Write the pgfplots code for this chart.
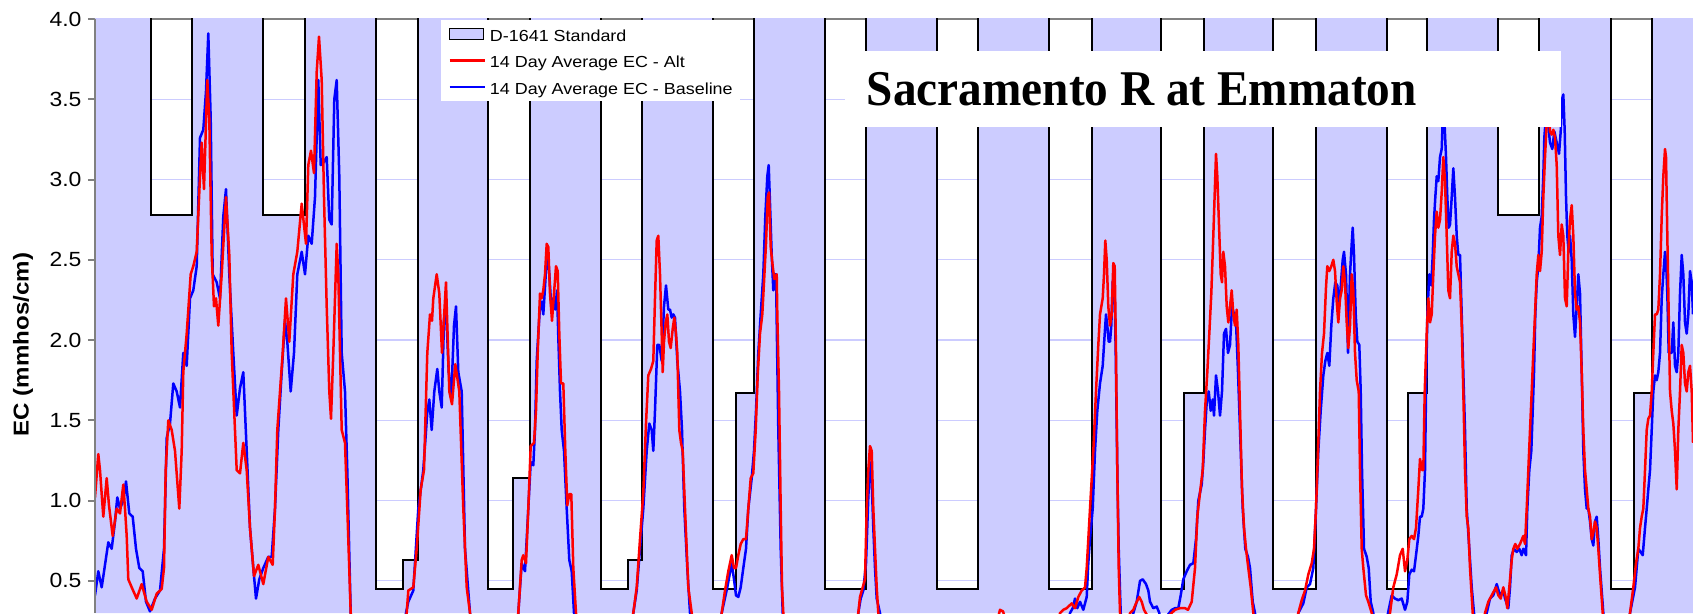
\documentclass[border=0pt]{standalone}
\usepackage{fontspec}
\setmainfont{Liberation Sans}[FakeStretch=1.12]
\newfontfamily\titlefont{Liberation Serif}[FakeStretch=0.945]
\usepackage{pgfplots}
\usepackage{pgfplotstable}
\pgfplotsset{compat=1.18}
\definecolor{stdfill}{HTML}{CCCCFF}
\definecolor{gridc}{HTML}{CCCCFF}
\definecolor{axgray}{HTML}{808080}
\definecolor{altred}{HTML}{FF0000}
\definecolor{baseblue}{HTML}{0000FF}
\pgfplotsset{
  linelegend/.style={legend image code/.code={\draw[##1] (0pt,0pt) -- (35pt,0pt);}},
  boxlegend/.style={legend image code/.code={\draw[##1] (0pt,-5.8pt) rectangle (34pt,5.8pt);}},
}

\pgfplotstableread{
x y
95 4.6
151 4.6
151 2.78
192.3 2.78
192.3 4.6
263.3 4.6
263.3 2.78
305.3 2.78
305.3 4.6
375.7 4.6
375.7 0.45
403.3 0.45
403.3 0.63
417.7 0.63
417.7 4.6
487.7 4.6
487.7 0.45
512.7 0.45
512.7 1.14
530 1.14
530 4.6
600.7 4.6
600.7 0.45
628.3 0.45
628.3 0.63
642.3 0.63
642.3 4.6
712.7 4.6
712.7 0.45
735.7 0.45
735.7 1.67
754.3 1.67
754.3 4.6
825 4.6
825 0.45
866 0.45
866 4.6
936.7 4.6
936.7 0.45
978.3 0.45
978.3 4.6
1049 4.6
1049 0.45
1091.7 0.45
1091.7 4.6
1161 4.6
1161 0.45
1184.3 0.45
1184.3 1.67
1204 1.67
1204 4.6
1273.3 4.6
1273.3 0.45
1315.7 0.45
1315.7 4.6
1386.7 4.6
1386.7 0.45
1408.3 0.45
1408.3 1.67
1427.3 1.67
1427.3 4.6
1498.3 4.6
1498.3 2.78
1539.3 2.78
1539.3 4.6
1610.7 4.6
1610.7 0.45
1634 0.45
1634 1.67
1651.7 1.67
1651.7 4.6
1693 4.6
}\stdtable

\pgfplotstableread{
x y
95 1.02
98.3 1.29
100 1.19
103.3 0.90
106.7 1.14
109 0.97
112.7 0.78
116.7 0.95
120 0.92
123.3 1.10
125 0.95
126.7 0.78
128.3 0.51
131.7 0.46
136.7 0.39
141.7 0.48
146.7 0.37
151.7 0.32
156.7 0.42
161.7 0.45
164 0.58
165.7 1.19
168.3 1.50
171.7 1.44
175 1.31
179.3 0.95
181.7 1.31
183.3 1.80
186.7 2.04
190.7 2.41
193.3 2.46
196.7 2.55
200 3.02
201.7 3.23
204 2.94
207.3 3.62
209.3 3.38
211.7 2.53
214 2.21
216 2.26
218.3 2.09
221.7 2.41
226 2.89
229.3 2.53
231.7 1.92
236.7 1.19
240 1.17
243.3 1.36
246.7 1.19
250 0.83
254 0.53
258.3 0.60
263.3 0.48
268.3 0.65
272.7 0.60
275 0.95
277.3 1.44
282.7 1.92
286 2.26
289.3 1.99
293.3 2.41
297.3 2.55
301.7 2.85
306 2.60
308.3 3.09
311 3.18
314 3.04
316.7 3.67
319 3.89
321.7 3.62
324 2.89
326.7 2.21
329.3 1.68
331 1.51
333.3 1.92
336.7 2.60
338.3 2.41
341.7 1.44
345 1.36
347.3 0.95
350.7 0.30
355 0.10
400 0.10
406.7 0.30
408.3 0.44
413.3 0.46
416.7 0.70
420.7 1.07
424 1.19
427.3 1.92
430 2.16
432 2.12
433.3 2.26
436.7 2.41
439.3 2.29
442 1.92
446 2.36
449.3 1.68
452 1.60
455.3 1.85
459.3 1.68
463.3 0.95
466.7 0.46
470 0.30
474 0.10
514 0.10
518.3 0.30
521.7 0.63
523.3 0.66
526 0.61
528.3 0.95
530.7 1.34
534 1.36
536 1.56
537.7 1.92
540 2.29
541.7 2.26
543.3 2.31
545 2.41
546.7 2.60
548.3 2.58
550 2.29
552 2.12
554 2.29
556 2.46
557.7 2.43
559.3 2.04
561 1.73
563.3 1.73
565.3 1.31
567.3 0.97
569.3 1.04
571.3 1.04
573.3 0.58
576 0.30
580 0.10
628 0.10
633.3 0.30
636.7 0.46
640 0.76
643.3 1.05
646 1.48
648.3 1.78
651 1.82
653.3 1.87
655 2.26
656.7 2.62
658.3 2.65
660 2.41
661.7 2.04
662.7 1.80
664 1.99
665.7 2.11
667.3 2.16
669 1.99
670.7 1.95
672.7 2.07
674.3 2.14
676 2.04
677.3 1.92
679.3 1.44
681 1.36
682.7 1.31
685 0.95
688.3 0.46
691.7 0.30
695 0.10
717 0.10
721.7 0.30
725 0.44
728.3 0.56
731.7 0.66
734 0.58
736 0.58
738.3 0.66
740.7 0.73
743.3 0.76
746 0.76
748.3 0.95
750.7 1.14
753.3 1.17
755.7 1.44
757.7 1.78
760 2.04
762.3 2.16
764 2.36
766 2.60
767.7 2.89
769 2.92
770.7 2.58
772.7 2.46
774.3 2.38
776.7 2.41
777.3 2.16
779 1.68
780.7 0.95
782 0.46
783.3 0.30
787 0.10
853 0.10
858.3 0.30
860 0.40
862.7 0.46
865 0.51
866.7 0.95
868.3 1.19
870 1.34
871.7 1.31
873.3 0.95
875 0.70
876.7 0.46
878.3 0.30
882 0.10
996 0.10
998 0.27
1000 0.32
1003 0.31
1005 0.27
1008 0.10
1055 0.10
1060 0.30
1063.3 0.32
1066.7 0.33
1071.7 0.36
1075 0.33
1078.3 0.40
1081.7 0.44
1085 0.46
1086.7 0.58
1088.3 0.76
1090 0.95
1093.3 1.31
1096 1.68
1098.3 1.97
1100 2.16
1102.7 2.26
1104 2.41
1105.3 2.62
1106.7 2.50
1108.3 2.21
1110 2.09
1111.7 2.16
1113.3 2.48
1114.7 2.46
1116 1.92
1117.3 1.19
1118.7 0.58
1120 0.30
1124 0.10
1127 0.10
1130 0.30
1133.3 0.32
1136.7 0.37
1139.3 0.40
1141.7 0.37
1144 0.32
1146.7 0.29
1150 0.10
1166 0.10
1170 0.29
1175 0.32
1180 0.33
1185 0.33
1188 0.32
1191.7 0.37
1195 0.58
1197.3 0.90
1200 1.05
1202.7 1.19
1205 1.56
1207.3 1.80
1209.3 2.04
1211.3 2.29
1213.3 2.65
1215 2.97
1216 3.16
1217.3 3.02
1218.7 2.77
1220.7 2.41
1222 2.36
1223.3 2.55
1225 2.46
1226.7 2.21
1228.3 2.11
1230 2.21
1231.7 2.31
1233.3 2.16
1235 2.09
1236.7 2.19
1238.3 1.97
1240 1.56
1242 1.07
1244 0.83
1246 0.70
1248.3 0.58
1250.7 0.46
1253.3 0.30
1257 0.10
1294 0.10
1298.3 0.30
1301.7 0.38
1305 0.44
1308.3 0.54
1311.7 0.61
1314 0.70
1316 0.95
1318 1.31
1320 1.68
1322 1.92
1324 2.04
1326 2.33
1327.3 2.46
1329.3 2.43
1331.3 2.46
1333.3 2.50
1335 2.43
1336.7 2.24
1338.3 2.11
1340 2.26
1341.7 2.31
1343.3 2.46
1345 2.36
1346.7 2.11
1348.3 1.95
1350 2.09
1351.7 2.41
1353.3 2.31
1355 1.92
1356.7 1.75
1358.7 1.68
1360 1.19
1361.7 0.70
1363.3 0.58
1366 0.41
1368.3 0.37
1371.7 0.30
1375 0.10
1386 0.10
1390 0.30
1393.3 0.46
1396.7 0.54
1400 0.66
1402.7 0.70
1405 0.56
1407.3 0.63
1409.3 0.76
1411.7 0.78
1414 0.76
1416 0.83
1418.3 1.07
1420 1.26
1422 1.19
1423.3 1.19
1424.7 1.68
1426.7 2.04
1428.3 2.26
1430 2.11
1431.7 2.16
1433.3 2.41
1435 2.65
1436.7 2.80
1438.3 2.70
1440 2.75
1441.7 2.92
1443.3 3.14
1445 2.99
1446.7 2.65
1448.3 2.31
1450 2.26
1451.7 2.55
1453.3 2.65
1455 2.60
1456.7 2.46
1458.3 2.41
1460 2.36
1461.7 2.09
1463.3 1.68
1465 1.19
1466.7 0.90
1468.3 0.83
1470 0.58
1472.7 0.30
1476 0.10
1482 0.10
1485 0.30
1488.3 0.37
1491.7 0.41
1496 0.46
1498.3 0.41
1500.7 0.39
1503.3 0.46
1505.3 0.41
1507.3 0.33
1509.3 0.46
1511.7 0.63
1513.3 0.70
1515.3 0.73
1517.3 0.70
1520 0.73
1522 0.76
1523.3 0.78
1525 0.73
1526.7 0.95
1528.3 1.19
1530 1.44
1531.7 1.68
1533.3 1.92
1535 2.16
1536.7 2.41
1538.3 2.53
1540 2.43
1541.7 2.55
1543.3 2.89
1545 3.14
1546.7 3.35
1548.3 3.45
1550 3.30
1551.7 3.28
1553.3 3.31
1555 3.26
1556.7 3.09
1558.3 2.65
1560 2.53
1561.7 2.72
1563.3 2.65
1565 2.26
1566.7 2.21
1568.3 2.55
1570 2.75
1571.7 2.84
1573.3 2.65
1575 2.29
1576.7 2.19
1578.3 2.21
1580 2.11
1581.7 1.80
1583.3 1.44
1585 1.19
1586.7 1.07
1588.3 0.95
1590 0.90
1591.7 0.76
1593.3 0.80
1595 0.87
1596.7 0.83
1598.3 0.70
1600 0.54
1602.7 0.30
1606 0.10
1626 0.10
1630 0.30
1633.3 0.46
1636 0.61
1638.3 0.70
1640 0.83
1641.7 0.90
1643.3 0.95
1645 1.19
1646.7 1.44
1648.3 1.51
1650 1.53
1651.7 1.68
1653.3 1.92
1655 2.16
1656.7 2.16
1658.3 2.19
1660 2.41
1661.7 2.77
1663.3 3.02
1665 3.19
1666 3.14
1667.3 2.65
1668.7 2.16
1670 1.68
1671.7 1.56
1673.3 1.48
1675 1.31
1676.7 1.07
1678.3 1.44
1680 1.68
1681.7 1.97
1683.3 1.92
1685 1.73
1686.7 1.68
1688.3 1.80
1690 1.84
1691.7 1.68
1693 1.36
}\alttable

\pgfplotstableread{
x y
95 0.41
98.3 0.56
101.7 0.46
105 0.60
108.3 0.74
111.7 0.70
115 0.87
117.3 1.02
120 0.95
123.3 1.00
126 1.12
129.3 0.92
132.7 0.90
136 0.70
139.3 0.58
142.7 0.56
146 0.37
150 0.31
155 0.39
160 0.44
164 0.70
166.7 1.39
170 1.48
173.3 1.73
176.7 1.68
180 1.58
183.3 1.92
186.7 1.84
190 2.26
193.3 2.31
196.7 2.46
200 3.26
203.3 3.31
206 3.55
208.3 3.91
210.7 3.38
212.7 2.41
216.7 2.36
220 2.26
223.3 2.77
226 2.94
229.3 2.41
233.3 1.92
236.7 1.53
240 1.70
243.3 1.80
246.7 1.31
250 0.83
253.3 0.58
256 0.39
259.3 0.51
263.3 0.58
268.3 0.65
271.7 0.65
275 0.95
278.3 1.44
281.7 1.80
285 2.12
287.3 1.99
290.7 1.68
294 1.92
297.3 2.41
301.7 2.55
305 2.41
308.3 2.65
311.7 2.60
315 2.89
318.3 3.62
320.7 3.09
324 3.11
326.7 3.14
329.3 2.75
331.7 2.72
334.3 3.50
336.7 3.62
339.3 3.02
341.7 1.92
345 1.68
347.3 1.19
350.7 0.30
355 0.10
402 0.10
406 0.30
408.3 0.37
413.3 0.44
418.3 0.95
423.3 1.19
427.3 1.55
429.3 1.63
431.7 1.44
434.3 1.68
437.3 1.82
439.3 1.68
441.7 1.58
444 2.12
446 2.21
448.7 1.80
451.3 1.65
454 2.09
456 2.21
458.3 1.80
461.7 1.68
465 0.70
470 0.30
474 0.10
514 0.10
518.3 0.30
521.7 0.61
525 0.56
527.3 0.83
530.7 1.24
533.3 1.22
535 1.44
536.7 1.87
538.3 2.04
540 2.21
541.7 2.24
543.3 2.16
545.3 2.36
547.3 2.58
549.3 2.41
551.3 2.21
553.3 2.26
555.3 2.19
557 2.31
558.3 2.02
560 1.68
561.7 1.44
564 1.31
566.7 0.95
569.3 0.63
571.7 0.56
574 0.30
578 0.10
629 0.10
633.3 0.30
636.7 0.44
640 0.70
643.3 0.95
646.7 1.31
649.3 1.48
651.7 1.44
653.3 1.31
655 1.56
657.3 1.97
659.3 1.97
661.7 1.87
664 2.21
666 2.34
668.3 2.19
670 2.19
671.7 2.14
673.3 2.16
675 2.14
677.3 1.87
680 1.68
682 1.44
684.3 0.95
687.3 0.58
690 0.30
694 0.10
717 0.10
721.7 0.30
727.3 0.46
731.7 0.61
734 0.51
736 0.41
738.3 0.40
740.7 0.46
743.3 0.58
746 0.70
748.3 0.95
751.7 1.14
754 1.31
756 1.56
758.3 1.92
760.7 2.16
763.3 2.41
765.3 2.77
767.3 3.02
768.7 3.09
770 2.85
771.7 2.53
773.3 2.31
774.3 2.41
776 2.41
778.3 1.44
780.7 0.70
782.7 0.30
786 0.10
854 0.10
858.3 0.30
860.7 0.39
863.3 0.44
866 0.61
868.3 1.02
870 1.24
871.7 1.12
873.3 0.83
875 0.58
876.7 0.39
880 0.30
884 0.10
1066 0.10
1070 0.30
1072.7 0.33
1075 0.39
1077.3 0.33
1080 0.37
1083.3 0.32
1086.7 0.40
1088.3 0.61
1090 0.76
1092.7 0.95
1095 1.31
1097.3 1.56
1100 1.73
1102.7 1.84
1104.7 2.04
1106 2.16
1107.3 2.09
1108.7 1.99
1110 1.99
1111.3 2.09
1112.7 2.36
1114.3 2.41
1115.7 1.92
1117.3 1.19
1118.7 0.70
1120.7 0.30
1124 0.10
1130 0.10
1133.3 0.30
1136.7 0.37
1140 0.50
1142.7 0.51
1146 0.48
1148.3 0.44
1150 0.37
1153.3 0.33
1156.7 0.34
1159.3 0.30
1162 0.10
1165 0.10
1168 0.29
1171.7 0.32
1175 0.33
1178.3 0.33
1180.7 0.41
1183.3 0.51
1186.7 0.56
1190 0.60
1193.3 0.61
1196 0.76
1198.3 1.00
1201.7 1.10
1203.3 1.24
1205 1.44
1206.7 1.61
1208.7 1.68
1210.7 1.56
1212.7 1.63
1214 1.53
1216 1.78
1218 1.68
1220 1.53
1222 1.68
1224 2.04
1226 2.07
1228 1.92
1230 1.97
1232 2.21
1234 2.16
1236 2.11
1238 1.80
1240 1.44
1242.7 0.95
1245.3 0.70
1248 0.65
1250 0.58
1252.7 0.37
1255 0.30
1258 0.10
1294 0.10
1298.3 0.30
1303.3 0.36
1306.7 0.46
1310 0.48
1313.3 0.58
1316 0.95
1318.3 1.31
1320.7 1.56
1323.3 1.78
1325.3 1.87
1327.3 1.92
1329.3 1.84
1331.3 2.09
1333.3 2.26
1335.3 2.36
1337.3 2.34
1339.3 2.21
1341 2.36
1342.7 2.50
1344 2.55
1346 2.41
1348 1.92
1350 2.41
1351.7 2.60
1352.7 2.70
1354 2.53
1355.7 2.16
1357.3 1.99
1359.3 1.97
1360.7 1.68
1362 1.19
1364 0.70
1366.7 0.65
1368.7 0.58
1370.7 0.37
1373.3 0.30
1377 0.10
1384 0.10
1388 0.30
1391.7 0.41
1395 0.39
1398.3 0.38
1401.7 0.39
1405 0.32
1407.3 0.37
1409.3 0.54
1411.7 0.57
1414 0.56
1416 0.66
1418.3 0.78
1420 0.90
1421.7 0.90
1423.3 0.95
1425 1.19
1426 1.68
1427.3 2.16
1429.3 2.41
1431.3 2.34
1432.7 2.53
1434 2.75
1435.3 2.89
1436.7 3.02
1438.3 2.99
1440 3.14
1441.7 3.19
1443.3 3.48
1444.3 3.38
1446 3.14
1447.3 2.89
1448.7 2.70
1450 2.72
1451.7 2.89
1453.3 3.07
1455 2.89
1456.7 2.65
1458.3 2.53
1460 2.53
1461.7 2.16
1463.3 1.80
1465 1.44
1466.7 0.95
1469.3 0.70
1471.7 0.46
1474 0.30
1478 0.10
1483 0.10
1486.7 0.30
1490 0.39
1493.3 0.41
1496.7 0.48
1500 0.41
1503.3 0.44
1505 0.39
1508.3 0.33
1510 0.46
1511.7 0.66
1514 0.70
1516.7 0.68
1519.3 0.70
1521.7 0.66
1523.3 0.70
1526 0.66
1527.3 0.95
1529.3 1.19
1531.3 1.31
1532.7 1.56
1534 1.80
1535.3 2.16
1536.7 2.36
1538.3 2.46
1540 2.70
1541.7 2.77
1543.3 3.02
1544.3 3.26
1546 3.40
1548 3.35
1550 3.23
1552.3 3.19
1554.3 3.30
1556.7 3.23
1559 3.16
1560.7 3.30
1562 3.50
1563.3 3.53
1564.7 3.30
1566 2.89
1567.3 2.65
1568.7 2.55
1570 2.65
1571.7 2.50
1573.3 2.16
1575 2.02
1576.7 2.21
1578.3 2.41
1580 2.29
1581.7 1.80
1583.3 1.31
1585 1.07
1586.7 0.95
1588.3 0.95
1590 0.87
1591.7 0.76
1593.3 0.72
1595 0.87
1596.7 0.90
1598.3 0.76
1600 0.58
1603.3 0.30
1607 0.10
1626 0.10
1630 0.30
1635 0.46
1638.3 0.70
1640.7 0.68
1642.7 0.66
1645 0.83
1646.7 0.95
1648.3 1.07
1650 1.19
1651.7 1.44
1653.3 1.68
1655 1.78
1656.7 1.75
1658.3 1.80
1660 1.92
1661.7 2.26
1663.3 2.41
1665 2.55
1666 2.50
1667.3 2.29
1668.7 1.92
1670 1.92
1671.7 1.92
1673.3 2.11
1675 1.84
1676.7 1.80
1678.3 1.92
1680 2.29
1681.7 2.53
1683.3 2.41
1685 2.11
1686.7 2.04
1688.3 2.16
1690 2.43
1691.7 2.36
1693 2.16
}\basetable

\begin{document}
\begin{tikzpicture}
\begin{axis}[
  name=ax,
  scale only axis,
  width=1598pt, height=594pt,
  xmin=95, xmax=1693, ymin=0.3, ymax=4.0,
  clip mode=individual,
  axis line style={draw=none},
  xtick=\empty,
  ytick={0.5,1,1.5,2,2.5,3,3.5,4},
  ytick pos=left,
  tick align=outside,
  major tick length=7pt,
  ytick style={draw=axgray, line width=2pt},
  /pgf/number format/assume math mode=true,
  yticklabel style={font=\fontsize{20.5}{24}\selectfont,
    /pgf/number format/fixed, /pgf/number format/fixed zerofill,
    /pgf/number format/precision=1, xshift=-3pt},
  ymajorgrids,
  major grid style={draw=gridc, line width=1.2pt},
  ylabel={EC (mmhos/cm)},
  ylabel style={font=\bfseries\fontsize{21.5}{25}\selectfont,
    at={(axis description cs:-0.04506,0.452)}, anchor=center},
  legend cell align=left,
  legend style={at={(axis description cs:0.2165,0.998)}, anchor=north west,
    draw=none, fill=white, inner xsep=7.3pt, inner ysep=4.8pt,
    row sep=9.15pt, column sep=4pt,
    nodes={inner sep=0pt},
    font=\fontsize{16}{19}\selectfont},
]
\addlegendimage{boxlegend, fill=stdfill, draw=black, line width=1pt}
\addlegendentry{\rule[-2.35pt]{0pt}{18.35pt}D-1641 Standard}
\addlegendimage{linelegend, altred, line width=2.5pt}
\addlegendentry{\rule[-2.35pt]{0pt}{18.35pt}14 Day Average EC - Alt}
\addlegendimage{linelegend, baseblue, line width=2.5pt}
\addlegendentry{\rule[-2.35pt]{0pt}{18.35pt}14 Day Average EC - Baseline}

\draw[axgray, line width=2pt] (axis cs:95,4) -- (axis cs:1693,4);
\addplot[fill=stdfill, draw=none, forget plot] table[x=x,y=y] {\stdtable} \closedcycle;
\addplot[black, line width=1.8pt, forget plot] table[x=x,y=y] {\stdtable};
\addplot[baseblue, line width=2.5pt, line join=round, forget plot] table[x=x,y=y] {\basetable};
\addplot[altred, line width=2.5pt, line join=round, forget plot] table[x=x,y=y] {\alttable};
\draw[axgray, line width=2pt] (axis cs:95,0.3) -- (axis cs:95,4);
\fill[white] (axis cs:845,3.327) rectangle (axis cs:1561,3.8025);
\node[anchor=base west, inner sep=0pt, font=\titlefont\bfseries\fontsize{50}{60}\selectfont]
  at (axis cs:866.7,3.461) {Sacramento R at Emmaton};
\end{axis}
\pgfresetboundingbox
\path ([xshift=-95pt]ax.south west) rectangle ([yshift=19pt]ax.north east);
\end{tikzpicture}
\end{document}
